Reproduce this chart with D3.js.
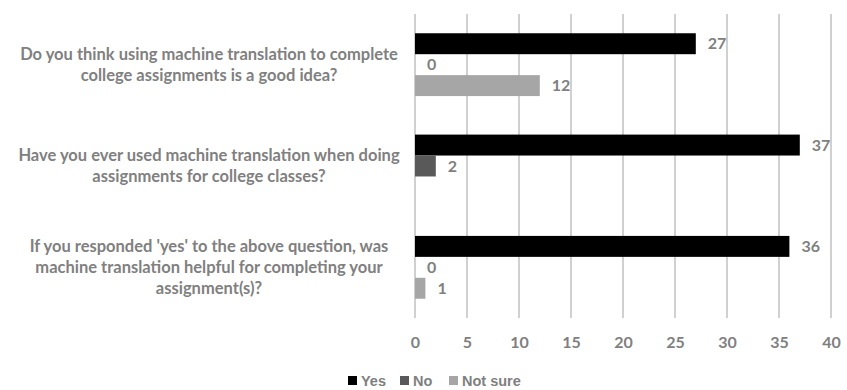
<!DOCTYPE html>
<html>
<head>
<meta charset="utf-8">
<script src="https://cdn.jsdelivr.net/npm/d3@7"></script>
<style>
html,body{margin:0;padding:0;background:#fff;}
svg{display:block;}
</style>
</head>
<body>
<svg id="chart" width="847" height="390"></svg>
<script>
const categories = [
  ["Do you think using machine translation to complete", "college assignments is a good idea?"],
  ["Have you ever used machine translation when doing", "assignments for college classes?"],
  ["If you responded 'yes' to the above question, was", "machine translation helpful for completing your", "assignment(s)?"]
];
const seriesNames = ["Yes", "No", "Not sure"];
const yesValues = [27, 37, 36];
const noValues = [0, 2, 0];
const notSureValues = [12, null, 1];
const xTicks = [0, 5, 10, 15, 20, 25, 30, 35, 40];
const colors = ["#000000", "#595959", "#a6a6a6"];

const series = [yesValues, noValues, notSureValues];
const svg = d3.select("#chart");
const font = "Lato, 'Open Sans', sans-serif";
const gray = "#808080";

const x = d3.scaleLinear().domain([0, 40]).range([415, 831]);
const y = d3.scaleBand().domain(d3.range(categories.length)).range([14, 318]).paddingInner(0.38).paddingOuter(0.19);
const ys = d3.scaleBand().domain(seriesNames).range([0, y.bandwidth()]);
const color = d3.scaleOrdinal().domain(seriesNames).range(colors);

// gridlines
svg.append("g").selectAll("line").data(xTicks).join("line")
  .attr("x1", d => x(d)).attr("x2", d => x(d))
  .attr("y1", 14).attr("y2", 318)
  .attr("stroke", "#c0c0c0").attr("stroke-width", 1.5);

// x axis labels
const xAxis = d3.axisBottom(x).tickValues(xTicks).tickSize(0).tickPadding(0);
const xg = svg.append("g").attr("transform", "translate(0,336)").call(xAxis);
xg.select(".domain").remove();
xg.selectAll("text").attr("font-family", font).attr("font-weight", "bold")
  .attr("font-size", 16).attr("fill", gray).attr("dy", "0.35em").attr("y", 6);

// bars
const rows = [];
categories.forEach((c, i) => {
  seriesNames.forEach((s, j) => {
    rows.push({cat: i, s: s, v: series[j][i]});
  });
});
const valid = rows.filter(r => r.v !== null);

svg.append("g").selectAll("rect").data(valid).join("rect")
  .attr("x", x(0))
  .attr("y", d => y(d.cat) + ys(d.s))
  .attr("width", d => x(d.v) - x(0))
  .attr("height", ys.bandwidth())
  .attr("fill", d => color(d.s));

// value labels
svg.append("g").selectAll("text").data(valid).join("text")
  .attr("x", d => x(d.v) + 12)
  .attr("y", d => y(d.cat) + ys(d.s) + ys.bandwidth() / 2)
  .attr("dy", "0.35em")
  .attr("font-family", font).attr("font-weight", "bold").attr("font-size", 16)
  .attr("fill", gray)
  .text(d => d.v);

// category labels
const lineH = 21;
const cg = svg.append("g");
categories.forEach((lines, i) => {
  const cy = y(i) + y.bandwidth() / 2;
  const t = cg.append("text")
    .attr("text-anchor", "middle")
    .attr("font-family", font).attr("font-weight", "bold").attr("font-size", 16.5)
    .attr("fill", gray);
  lines.forEach((ln, k) => {
    t.append("tspan").attr("x", 209)
      .attr("y", cy + (k - (lines.length - 1) / 2) * lineH)
      .attr("dy", "0.35em").text(ln);
  });
});

// legend
const legendX = [348, 400, 449];
const lg = svg.append("g");
seriesNames.forEach((s, i) => {
  lg.append("rect").attr("x", legendX[i]).attr("y", 376).attr("width", 9).attr("height", 9).attr("fill", color(s));
  lg.append("text").attr("x", legendX[i] + 13).attr("y", 381).attr("dy", "0.35em")
    .attr("font-family", "'Liberation Sans', Arial, sans-serif").attr("font-weight", "bold").attr("font-size", 14.5)
    .attr("fill", gray).text(s);
});
</script>
</body>
</html>
